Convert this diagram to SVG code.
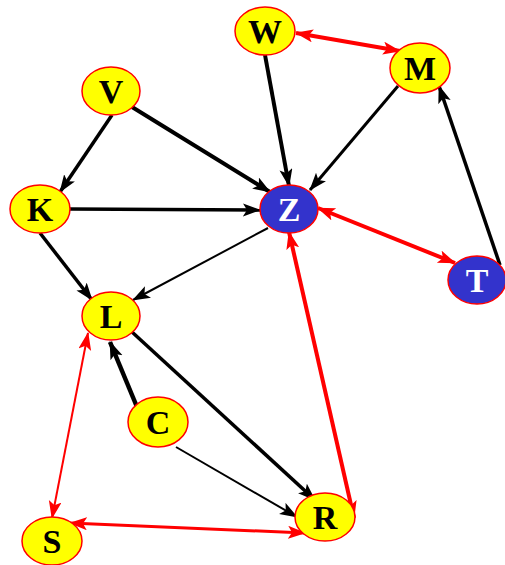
<svg xmlns="http://www.w3.org/2000/svg" width="505" height="565" viewBox="0 0 505 565">
<defs>
<style>
.n ellipse{stroke:#ff0000;stroke-width:1.5}
.y ellipse{fill:#ffff00}
.b ellipse{fill:#3333cc}
.n text{font-family:"Liberation Serif",serif;font-weight:bold;font-size:34px;text-anchor:middle}
.y text{fill:#000}
.b text{fill:#fff}
.k{stroke:#000;fill:none}
.r{stroke:#ff0000;fill:none}
</style>
<marker id="ak" markerUnits="userSpaceOnUse" markerWidth="20" markerHeight="14" refX="17" refY="6.5" orient="auto"><path d="M0,0 L18,6.5 L0,13 L4,6.5 z" fill="#000"/></marker>
<marker id="ar" markerUnits="userSpaceOnUse" markerWidth="20" markerHeight="14" refX="17" refY="6.5" orient="auto-start-reverse"><path d="M0,0 L18,6.5 L0,13 L4,6.5 z" fill="#ff0000"/></marker>
</defs>
<g id="connectors">
<line class="r" x1="296" y1="33" x2="400" y2="51" stroke-width="4" marker-start="url(#ar)" marker-end="url(#ar)"/>
<line class="k" x1="265" y1="55" x2="289" y2="186" stroke-width="4" marker-end="url(#ak)"/>
<line class="k" x1="398" y1="86" x2="310" y2="190" stroke-width="3" marker-end="url(#ak)"/>
<line class="k" x1="112" y1="115" x2="60" y2="192" stroke-width="3.5" marker-end="url(#ak)"/>
<line class="k" x1="132" y1="107" x2="270" y2="192" stroke-width="4" marker-end="url(#ak)"/>
<line class="k" x1="70" y1="209" x2="260" y2="210" stroke-width="3.5" marker-end="url(#ak)"/>
<line class="k" x1="40" y1="233" x2="92" y2="300" stroke-width="3.5" marker-end="url(#ak)"/>
<line class="k" x1="268" y1="228" x2="133" y2="300" stroke-width="2" marker-end="url(#ak)"/>
<line class="r" x1="318" y1="208" x2="455" y2="263" stroke-width="4" marker-start="url(#ar)" marker-end="url(#ar)"/>
<line class="k" x1="500" y1="265" x2="439" y2="86" stroke-width="3.5" marker-end="url(#ak)"/>
<line class="r" x1="289" y1="232" x2="354" y2="518" stroke-width="4" marker-start="url(#ar)" marker-end="url(#ar)"/>
<line class="k" x1="132" y1="332" x2="315" y2="500" stroke-width="3.5" marker-end="url(#ak)"/>
<line class="k" x1="137" y1="407" x2="110" y2="342" stroke-width="4.5" marker-end="url(#ak)"/>
<line class="k" x1="176" y1="447" x2="297" y2="517" stroke-width="2" marker-end="url(#ak)"/>
<line class="r" x1="88" y1="333" x2="52" y2="518" stroke-width="2" marker-start="url(#ar)" marker-end="url(#ar)"/>
<line class="r" x1="70" y1="523" x2="305" y2="533" stroke-width="3" marker-start="url(#ar)" marker-end="url(#ar)"/>
</g>
<g id="W" class="n y"><ellipse cx="265" cy="31" rx="30" ry="24"/><text x="265" y="43">W</text></g>
<g id="M" class="n y"><ellipse cx="420" cy="68" rx="30" ry="25"/><text x="420" y="80">M</text></g>
<g id="V" class="n y"><ellipse cx="111" cy="91" rx="29" ry="24"/><text x="111" y="103">V</text></g>
<g id="K" class="n y"><ellipse cx="40" cy="209" rx="30" ry="24"/><text x="40" y="221">K</text></g>
<g id="Z" class="n b"><ellipse cx="289" cy="209" rx="29" ry="24"/><text x="289" y="221">Z</text></g>
<g id="T" class="n b"><ellipse cx="477" cy="280" rx="29" ry="24"/><text x="477" y="292">T</text></g>
<g id="L" class="n y"><ellipse cx="111" cy="316" rx="29" ry="24"/><text x="111" y="328">L</text></g>
<g id="C" class="n y"><ellipse cx="158" cy="422" rx="30" ry="25"/><text x="158" y="434">C</text></g>
<g id="S" class="n y"><ellipse cx="52" cy="541" rx="30" ry="24"/><text x="52" y="553">S</text></g>
<g id="R" class="n y"><ellipse cx="325" cy="517" rx="30" ry="24"/><text x="325" y="529">R</text></g>
</svg>
